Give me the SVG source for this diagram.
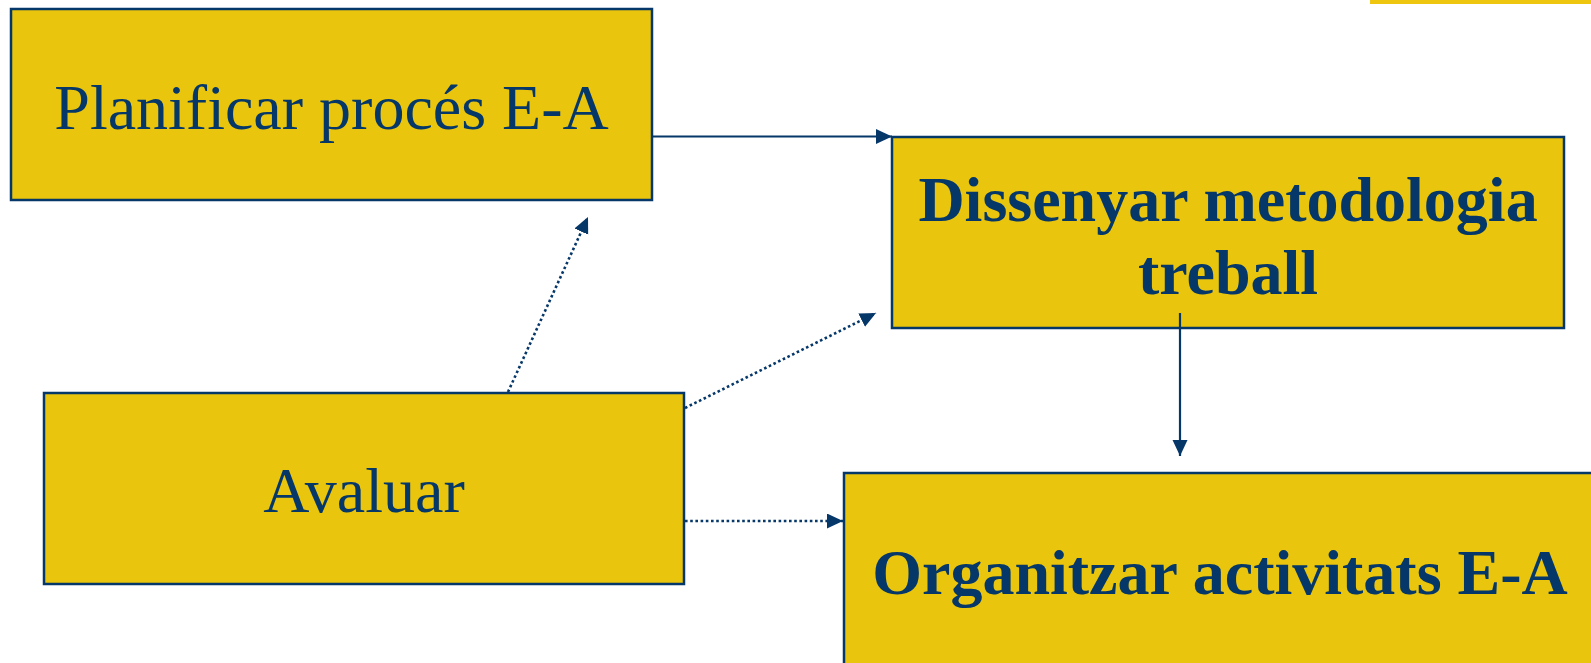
<svg xmlns="http://www.w3.org/2000/svg" width="1591" height="663" viewBox="0 0 1591 663">
<style>
.box{fill:#EAC50D;stroke:#053769;stroke-width:2.5}
.t{font-family:"Liberation Serif","Times New Roman",serif;font-size:64px;fill:#053769;text-anchor:middle}
.b{font-weight:bold}
.solid{stroke:#053769;stroke-width:2.2;fill:none}
.dot{stroke:#053769;stroke-width:2.6;fill:none;stroke-dasharray:2.6 2.6}
</style>
<defs>
<marker id="ah" markerUnits="userSpaceOnUse" markerWidth="18" markerHeight="16" refX="16" refY="7.5" orient="auto">
<path d="M0,0 L16,7.5 L0,15 Z" fill="#053769"/>
</marker>
</defs>
<rect x="1370" y="0" width="221" height="4" fill="#EEC60F"/>
<g id="planificar">
<rect class="box" x="11" y="9" width="641" height="191"/>
<text class="t" x="331.5" y="129">Planificar procés E-A</text>
</g>
<g id="dissenyar">
<rect class="box" x="892" y="137" width="672" height="191"/>
<text class="t b" x="1228" y="221">Dissenyar metodologia</text>
<text class="t b" x="1228" y="294">treball</text>
</g>
<g id="avaluar">
<rect class="box" x="44" y="393" width="640" height="191"/>
<text class="t" x="364" y="512">Avaluar</text>
</g>
<g id="organitzar">
<rect class="box" x="844" y="473" width="770" height="220"/>
<text class="t b" x="1220" y="594">Organitzar activitats E-A</text>
</g>
<g id="connectors">
<line class="solid" x1="652" y1="136.5" x2="892" y2="136.5" marker-end="url(#ah)"/>
<line class="solid" x1="1180" y1="313" x2="1180" y2="456" marker-end="url(#ah)"/>
<line class="dot" x1="508" y1="392" x2="588" y2="217" marker-end="url(#ah)"/>
<line class="dot" x1="685" y1="408" x2="876" y2="313" marker-end="url(#ah)"/>
<line class="dot" x1="685" y1="521" x2="843" y2="521" marker-end="url(#ah)"/>
</g>
</svg>
